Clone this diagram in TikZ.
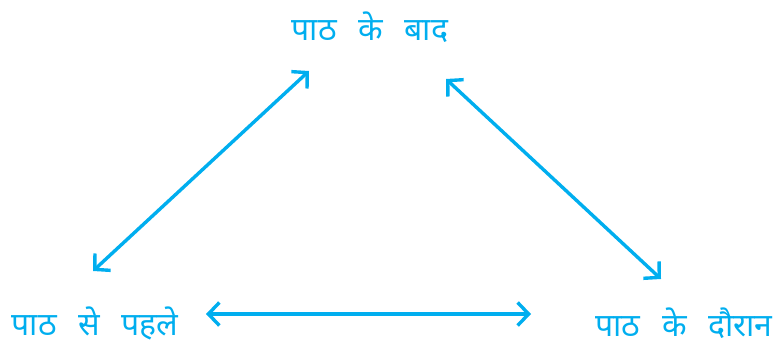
\documentclass[tikz,border=0pt]{standalone}
\usepackage{fontspec}
\newfontfamily\devfont[Script=Devanagari, WordSpace=2.6]{Noto Sans}
\usetikzlibrary{arrows.meta}
\definecolor{stagecyan}{HTML}{00AEEF}

\begin{document}
\begin{tikzpicture}[x=1pt, y=-1pt, thick, >={Straight Barb[length=11pt, width=23pt, line width=3.4pt]}]
        \tikzset{
            stage/.style={text=stagecyan, font=\devfont\fontsize{32}{36}\selectfont, inner sep=0pt, anchor=base},
            link/.style={<->, draw=stagecyan, line width=3.4pt, line cap=round}
        }
        \useasboundingbox (0,0) rectangle (774,347);

        \node[stage] (after) at (370,41) {पाठ के बाद};
        \node[stage] (before) at (95,336) {पाठ से पहले};
        \node[stage] (during) at (684,337) {पाठ के दौरान};

        \coordinate (before-up) at (93,271);
        \coordinate (after-left) at (309,71);
        \coordinate (after-right) at (446,79);
        \coordinate (during-up) at (661,279);
        \coordinate (before-right) at (206,314);
        \coordinate (during-left) at (531,314);

        \draw[link] (before-up) -- (after-left);
        \draw[link] (after-right) -- (during-up);
        \draw[link] (before-right) -- (during-left);
    \end{tikzpicture}
\end{document}
